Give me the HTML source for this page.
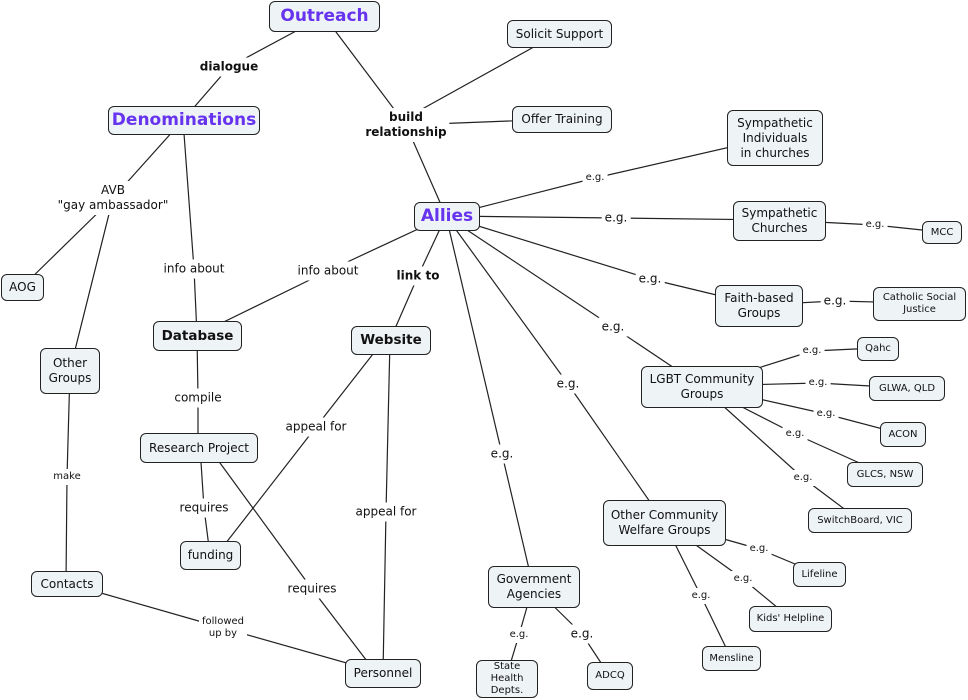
<!DOCTYPE html>
<html><head><meta charset="utf-8"><style>
body{margin:0;width:968px;height:700px;background:#fff;position:relative;overflow:hidden;font-family:"DejaVu Sans","Liberation Sans",sans-serif;color:#111}
svg{position:absolute;left:0;top:0}
.n{position:absolute;box-sizing:border-box;border:1.3px solid #222;border-radius:6px;background:#eef3f6;display:flex;align-items:center;justify-content:center;text-align:center;font-size:12px;line-height:15px}
.t{color:#6633ee;font-weight:bold;font-size:17px}
.b{font-weight:bold;font-size:13.5px}
.s{font-size:10px;line-height:12px}
.l{position:absolute;transform:translate(-50%,-50%);background:#fff;padding:2px 3px;font-size:12px;line-height:15px;text-align:center;white-space:nowrap}
.lb{font-weight:bold}
.ls{font-size:10px;line-height:12px}
</style></head><body>
<svg width="968" height="700" stroke="#222" stroke-width="1.2" fill="none">
<polyline points="324,16 229,67 183,120"/>
<polyline points="324,16 406,125 446,216"/>
<line x1="406" y1="118" x2="559" y2="33"/>
<line x1="406" y1="125" x2="561" y2="119"/>
<polyline points="183,120 113,198 22,287"/>
<line x1="113" y1="198" x2="70" y2="370"/>
<polyline points="183,120 194,269 197,335"/>
<polyline points="446,216 328,271 197,335"/>
<polyline points="446,216 418,276 390,340"/>
<polyline points="446,216 595,178 774,137"/>
<polyline points="446,216 616,218 779,220"/>
<polyline points="779,220 875,225 941,232"/>
<polyline points="446,216 650,279 758,305"/>
<polyline points="758,305 835,301 919,303"/>
<polyline points="446,216 613,327 701,386"/>
<polyline points="446,216 568,384 664,522"/>
<polyline points="446,216 502,454 533,586"/>
<polyline points="701,386 812,351 877,348"/>
<polyline points="701,386 818,383 906,388"/>
<polyline points="701,386 826,414 902,434"/>
<polyline points="701,386 795,434 884,474"/>
<polyline points="701,386 803,478 859,520"/>
<polyline points="664,522 759,549 819,574"/>
<polyline points="664,522 743,579 790,618"/>
<polyline points="664,522 701,596 731,658"/>
<polyline points="533,586 519,635 506,678"/>
<polyline points="533,586 582,634 609,675"/>
<polyline points="197,335 198,398 198,447"/>
<polyline points="200,447 204,508 210,555"/>
<polyline points="212,452 312,589 370,665"/>
<polyline points="380,345 316,427 222,548"/>
<polyline points="390,340 386,512 383,673"/>
<polyline points="70,370 67,477 66,583"/>
<polyline points="66,583 223,628 382,673"/>
</svg>
<div class="l lb" style="left:229px;top:67px">dialogue</div>
<div class="l lb" style="left:406px;top:125px">build<br>relationship</div>
<div class="l" style="left:113px;top:198px">AVB<br>"gay ambassador"</div>
<div class="l" style="left:194px;top:269px">info about</div>
<div class="l" style="left:328px;top:271px">info about</div>
<div class="l lb" style="left:418px;top:276px">link to</div>
<div class="l ls" style="left:595px;top:178px">e.g.</div>
<div class="l" style="left:616px;top:218px">e.g.</div>
<div class="l ls" style="left:875px;top:225px">e.g.</div>
<div class="l" style="left:650px;top:279px">e.g.</div>
<div class="l" style="left:835px;top:301px">e.g.</div>
<div class="l" style="left:613px;top:327px">e.g.</div>
<div class="l" style="left:568px;top:384px">e.g.</div>
<div class="l" style="left:502px;top:454px">e.g.</div>
<div class="l ls" style="left:812px;top:351px">e.g.</div>
<div class="l ls" style="left:818px;top:383px">e.g.</div>
<div class="l ls" style="left:826px;top:414px">e.g.</div>
<div class="l ls" style="left:795px;top:434px">e.g.</div>
<div class="l ls" style="left:803px;top:478px">e.g.</div>
<div class="l ls" style="left:759px;top:549px">e.g.</div>
<div class="l ls" style="left:743px;top:579px">e.g.</div>
<div class="l ls" style="left:701px;top:596px">e.g.</div>
<div class="l ls" style="left:519px;top:635px">e.g.</div>
<div class="l" style="left:582px;top:634px">e.g.</div>
<div class="l" style="left:198px;top:398px">compile</div>
<div class="l" style="left:204px;top:508px">requires</div>
<div class="l" style="left:312px;top:589px">requires</div>
<div class="l" style="left:316px;top:427px">appeal for</div>
<div class="l" style="left:386px;top:512px">appeal for</div>
<div class="l ls" style="left:67px;top:477px">make</div>
<div class="l ls" style="left:223px;top:628px">followed<br>up by</div>

<div class="n t" style="left:269px;top:1px;width:111px;height:31px">Outreach</div>
<div class="n t" style="left:108px;top:106px;width:152px;height:29px">Denominations</div>
<div class="n" style="left:507px;top:20px;width:105px;height:28px">Solicit Support</div>
<div class="n" style="left:512px;top:106px;width:100px;height:27px">Offer Training</div>
<div class="n" style="left:727px;top:110px;width:96px;height:56px">Sympathetic<br>Individuals<br>in churches</div>
<div class="n t" style="left:414px;top:202px;width:66px;height:29px">Allies</div>
<div class="n" style="left:733px;top:201px;width:93px;height:40px">Sympathetic<br>Churches</div>
<div class="n s" style="left:922px;top:221px;width:40px;height:23px">MCC</div>
<div class="n" style="left:1px;top:274px;width:43px;height:27px">AOG</div>
<div class="n b" style="left:153px;top:321px;width:89px;height:30px">Database</div>
<div class="n b" style="left:351px;top:326px;width:80px;height:29px">Website</div>
<div class="n" style="left:715px;top:285px;width:88px;height:42px">Faith-based<br>Groups</div>
<div class="n s" style="left:873px;top:287px;width:93px;height:34px">Catholic Social<br>Justice</div>
<div class="n s" style="left:857px;top:337px;width:42px;height:24px">Qahc</div>
<div class="n" style="left:641px;top:366px;width:122px;height:42px">LGBT Community<br>Groups</div>
<div class="n s" style="left:869px;top:376px;width:76px;height:25px">GLWA, QLD</div>
<div class="n s" style="left:880px;top:422px;width:46px;height:25px">ACON</div>
<div class="n s" style="left:847px;top:462px;width:76px;height:25px">GLCS, NSW</div>
<div class="n s" style="left:808px;top:508px;width:104px;height:25px">SwitchBoard, VIC</div>
<div class="n" style="left:40px;top:348px;width:60px;height:46px">Other<br>Groups</div>
<div class="n" style="left:140px;top:433px;width:118px;height:30px">Research Project</div>
<div class="n" style="left:180px;top:541px;width:61px;height:29px">funding</div>
<div class="n" style="left:31px;top:571px;width:72px;height:26px">Contacts</div>
<div class="n" style="left:603px;top:500px;width:123px;height:46px">Other Community<br>Welfare Groups</div>
<div class="n s" style="left:793px;top:562px;width:53px;height:25px">Lifeline</div>
<div class="n s" style="left:749px;top:606px;width:83px;height:26px">Kids' Helpline</div>
<div class="n s" style="left:702px;top:646px;width:59px;height:25px">Mensline</div>
<div class="n" style="left:488px;top:566px;width:92px;height:42px">Government<br>Agencies</div>
<div class="n s" style="left:476px;top:660px;width:62px;height:38px">State Health<br>Depts.</div>
<div class="n s" style="left:587px;top:662px;width:46px;height:28px">ADCQ</div>
<div class="n" style="left:345px;top:659px;width:76px;height:29px">Personnel</div>
</body></html>
